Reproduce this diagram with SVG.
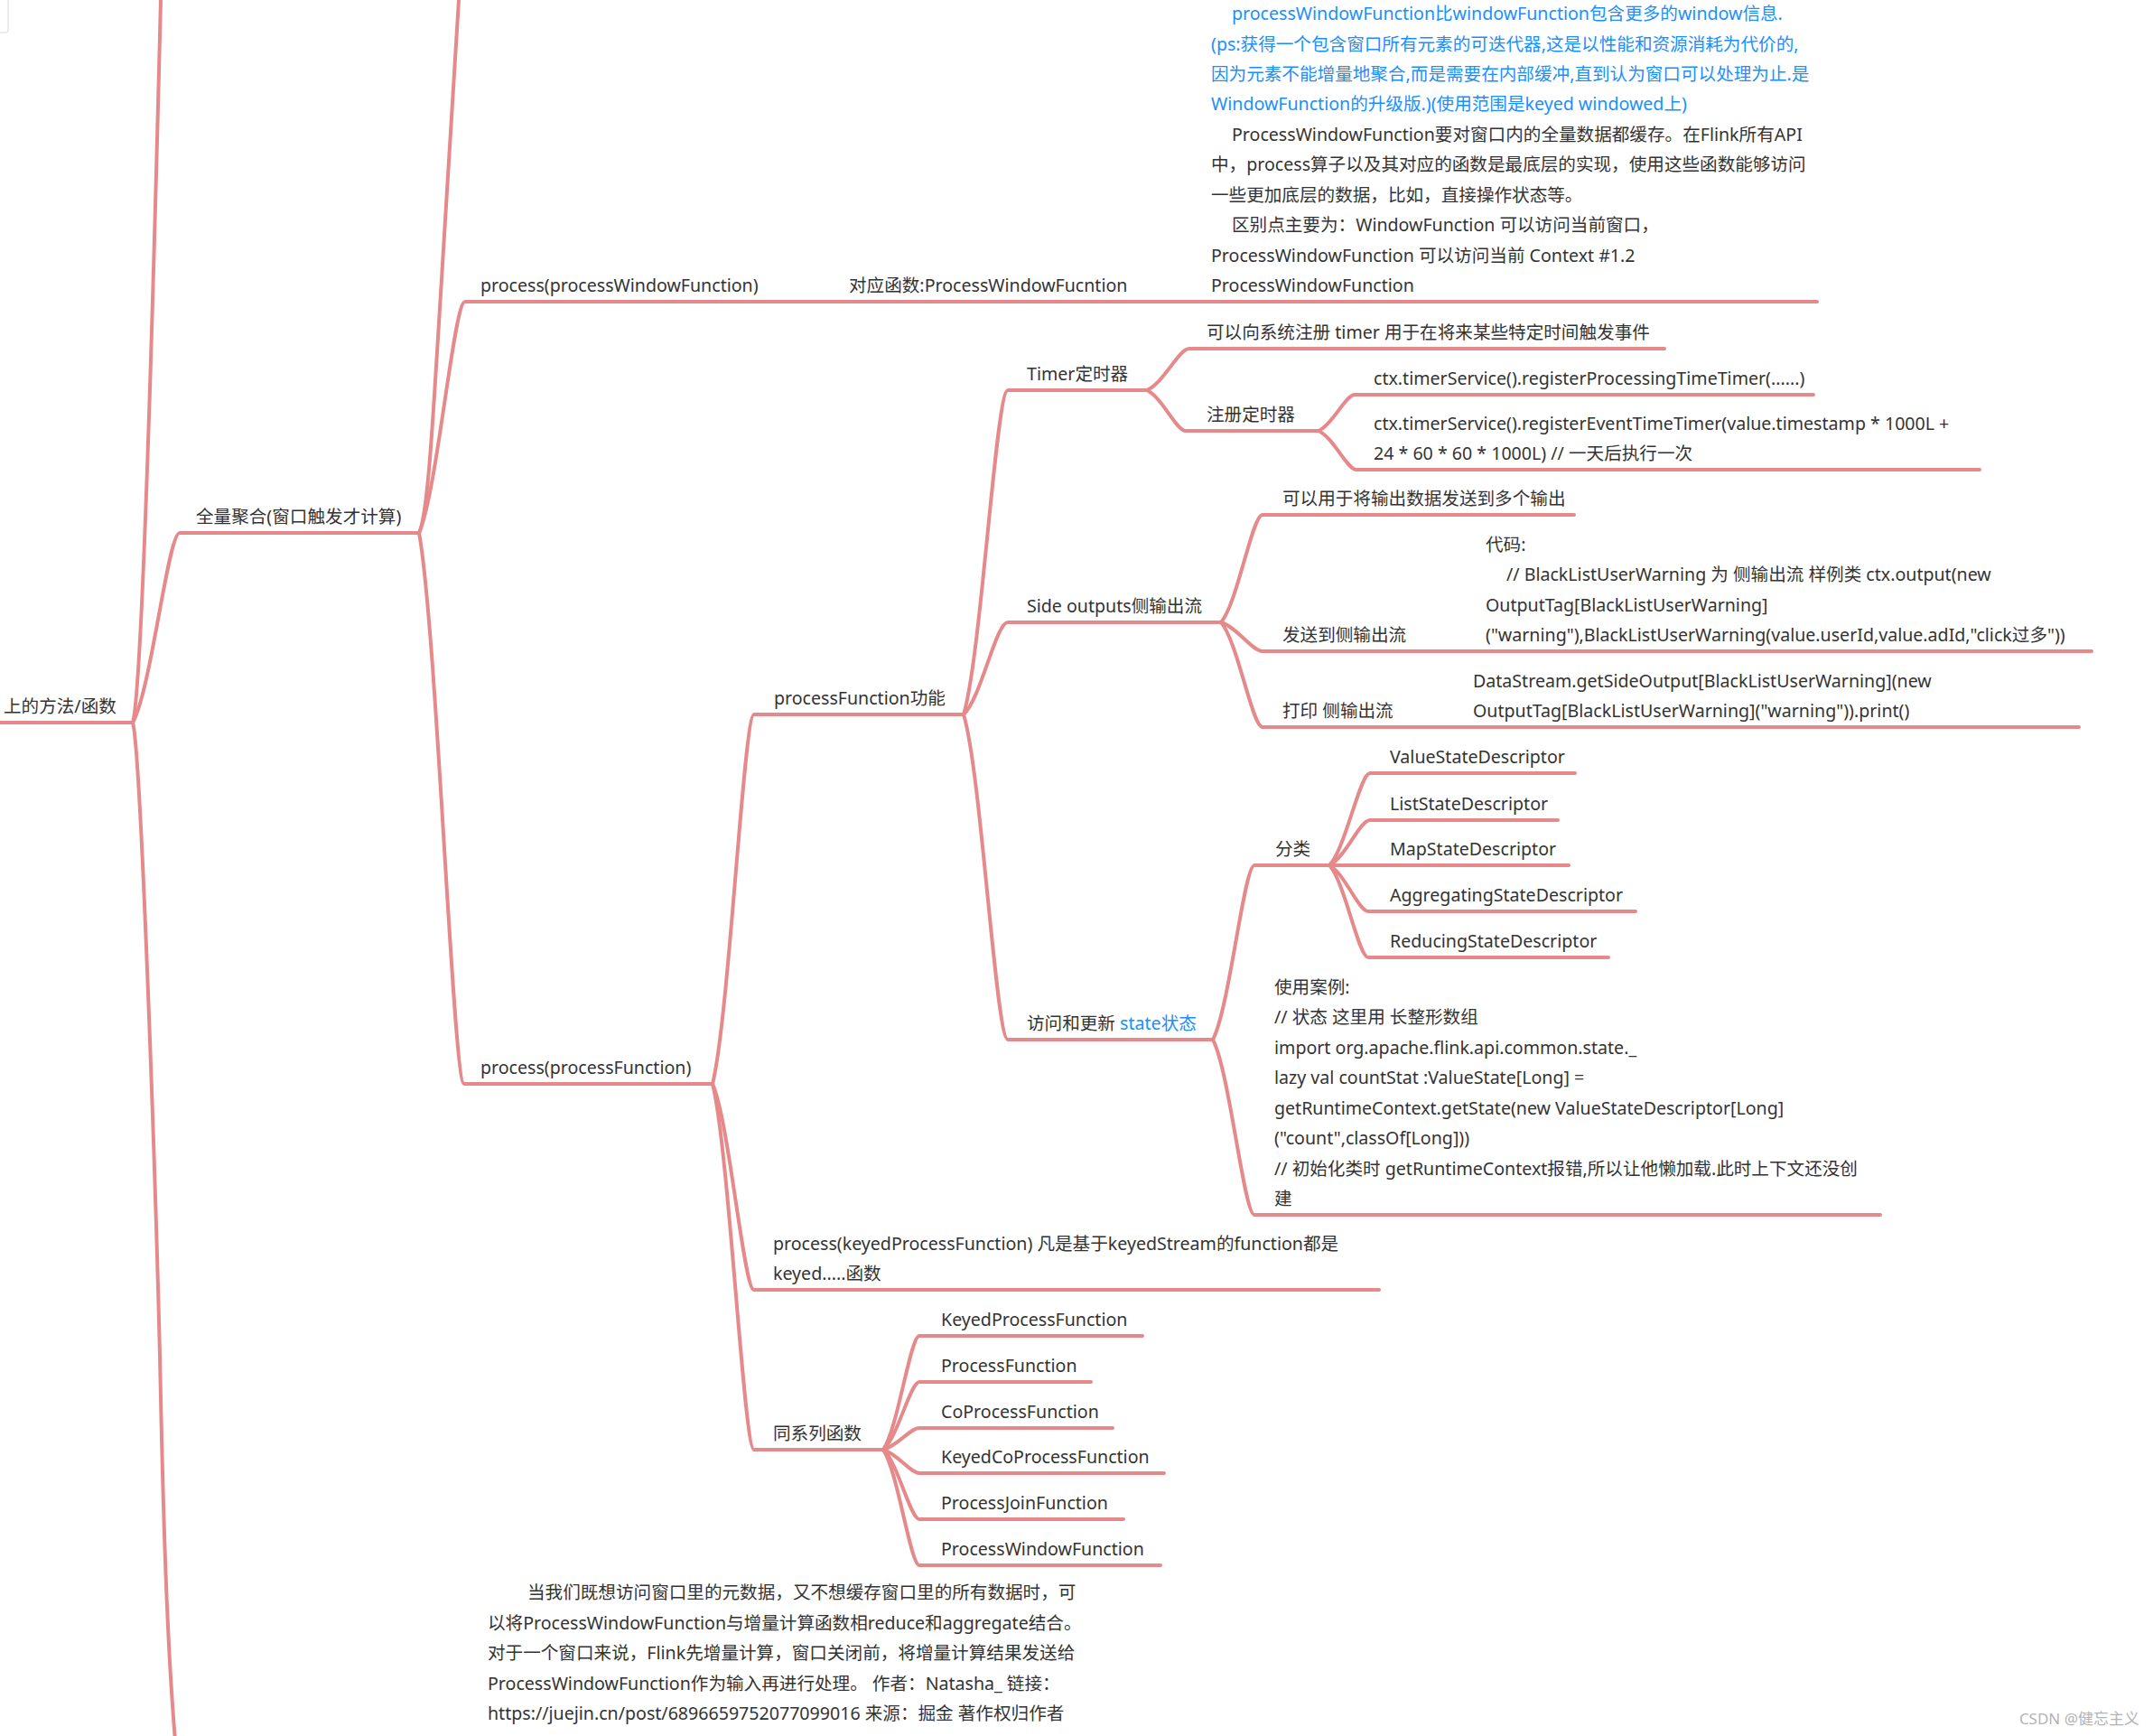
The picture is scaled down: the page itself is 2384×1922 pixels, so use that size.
<svg xmlns="http://www.w3.org/2000/svg" width="2384" height="1922" viewBox="0 0 2384 1922">
<style>
.ln{fill:none;stroke:#e6898a;stroke-width:4;stroke-linecap:round;stroke-linejoin:round}
.t{font-family:"Noto Sans","Noto Sans CJK SC",sans-serif;font-size:19.6px;fill:#333}
.b{fill:#1890ff}
.wm{font-family:"Noto Sans","Noto Sans CJK SC",sans-serif;font-size:17px;fill:#b3b3b3}
</style>
<rect x="0" y="0" width="2384" height="1922" fill="#ffffff"/>
<rect x="-10" y="-10" width="19" height="46" rx="3" fill="#ffffff" stroke="#e6e6e6" stroke-width="1.5"/>
<g id="connectors">
<path class="ln" d="M0,800 H147"/>
<path class="ln" d="M147,800 C156,770 168,400 178,0 L179.5,-40"/>
<path class="ln" d="M147,800 C156,830 172,1300 177,1500 C181,1700 186,1850 197,1960"/>
<path class="ln" d="M147,800 C167.8,762.2 186,590 199,590 H464"/>
<path class="ln" d="M464,590 C474,570 480,450 484,390 L508,0 L510.5,-40"/>
<path class="ln" d="M464,590 C484.4,543.9 502.3,334 515,334 H2012"/>
<path class="ln" d="M464,590 C484,699.8 501.5,1200 514,1200 H789"/>
<path class="ln" d="M789,1200 C807.4,1126.4 823.5,791 835,791 H1067"/>
<path class="ln" d="M789,1200 C807.4,1241 823.5,1428 835,1428 H1527"/>
<path class="ln" d="M789,1200 C807.4,1272.9 823.5,1605 835,1605 H978"/>
<path class="ln" d="M1067,791 C1086.6,726.4 1102.8,432 1116,432 H1270"/>
<path class="ln" d="M1067,791 C1086.6,772.6 1102.8,689 1116,689 H1352"/>
<path class="ln" d="M1067,791 C1086.6,855.8 1102.8,1151 1116,1151 H1343"/>
<path class="ln" d="M1270,432 C1288.8,423.7 1305.3,386 1317,386 H1843"/>
<path class="ln" d="M1270,432 C1287.2,440.1 1302.3,477 1313,477 H1460"/>
<path class="ln" d="M1460,477 C1476,469.8 1490,437 1500,437 H2008"/>
<path class="ln" d="M1460,477 C1476.8,484.7 1491.5,520 1502,520 H2192"/>
<path class="ln" d="M1352,689 C1370.4,667.6 1386.5,570 1398,570 H1743"/>
<path class="ln" d="M1352,689 C1370.4,694.8 1386.5,721 1398,721 H2316"/>
<path class="ln" d="M1352,689 C1370.4,709.9 1386.5,805 1398,805 H2302"/>
<path class="ln" d="M1343,1151 C1361.4,1116.3 1377.5,958 1389,958 H1472"/>
<path class="ln" d="M1343,1151 C1361.4,1185.9 1377.5,1345 1389,1345 H2082"/>
<path class="ln" d="M1472,958 C1490,939.6 1505.8,856 1517,856 H1744"/>
<path class="ln" d="M1472,958 C1490,949 1505.8,908 1517,908 H1725"/>
<path class="ln" d="M1472,958 H1737"/>
<path class="ln" d="M1472,958 C1489.2,967.2 1504.3,1009 1515,1009 H1811"/>
<path class="ln" d="M1472,958 C1489.2,976.4 1504.3,1060 1515,1060 H1781"/>
<path class="ln" d="M978,1605 C994,1582.3 1008,1479 1018,1479 H1265"/>
<path class="ln" d="M978,1605 C994,1591.5 1008,1530 1018,1530 H1208"/>
<path class="ln" d="M978,1605 C994,1600.7 1008,1581 1018,1581 H1232"/>
<path class="ln" d="M978,1605 C994,1609.7 1008,1631 1018,1631 H1289"/>
<path class="ln" d="M978,1605 C994,1618.9 1008,1682 1018,1682 H1244"/>
<path class="ln" d="M978,1605 C994,1628 1008,1733 1018,1733 H1285"/>
</g>
<g id="n-root"><text class="t" x="4" y="789">上的方法/函数</text></g>
<g id="n-quanliang"><text class="t" x="217" y="579">全量聚合(窗口触发才计算)</text></g>
<g id="n-pwf"><text class="t" x="532" y="323">process(processWindowFunction)</text></g>
<g id="n-duiying"><text class="t" x="940" y="323">对应函数:ProcessWindowFucntion</text></g>
<g id="n-pwf-note">
<text class="t b" x="1364" y="22">processWindowFunction比windowFunction包含更多的window信息.</text>
<text class="t b" x="1341" y="55.5">(ps:获得一个包含窗口所有元素的可迭代器,这是以性能和资源消耗为代价的,</text>
<text class="t b" x="1341" y="88.9">因为元素不能增量地聚合,而是需要在内部缓冲,直到认为窗口可以处理为止.是</text>
<text class="t b" x="1341" y="122.3">WindowFunction的升级版.)(使用范围是keyed windowed上)</text>
<text class="t" x="1364" y="155.8">ProcessWindowFunction要对窗口内的全量数据都缓存。在Flink所有API</text>
<text class="t" x="1341" y="189.2">中，process算子以及其对应的函数是最底层的实现，使用这些函数能够访问</text>
<text class="t" x="1341" y="222.6">一些更加底层的数据，比如，直接操作状态等。</text>
<text class="t" x="1364" y="256.1">区别点主要为：WindowFunction 可以访问当前窗口，</text>
<text class="t" x="1341" y="289.5">ProcessWindowFunction 可以访问当前 Context #1.2</text>
<text class="t" x="1341" y="323">ProcessWindowFunction</text>
</g>
<g id="n-pf"><text class="t" x="532" y="1189">process(processFunction)</text></g>
<g id="n-pfgn"><text class="t" x="857" y="780">processFunction功能</text></g>
<g id="n-timer"><text class="t" x="1137" y="421">Timer定时器</text></g>
<g id="n-timer-desc"><text class="t" x="1336" y="375">可以向系统注册 timer 用于在将来某些特定时间触发事件</text></g>
<g id="n-reg"><text class="t" x="1336" y="466">注册定时器</text></g>
<g id="n-ctx1"><text class="t" x="1521" y="426">ctx.timerService().registerProcessingTimeTimer(......)</text></g>
<g id="n-ctx2">
<text class="t" x="1521" y="475.6">ctx.timerService().registerEventTimeTimer(value.timestamp * 1000L +</text>
<text class="t" x="1521" y="509">24 * 60 * 60 * 1000L) // 一天后执行一次</text>
</g>
<g id="n-side"><text class="t" x="1137" y="678">Side outputs侧输出流</text></g>
<g id="n-side-desc"><text class="t" x="1420" y="559">可以用于将输出数据发送到多个输出</text></g>
<g id="n-send"><text class="t" x="1420" y="710">发送到侧输出流</text></g>
<g id="n-send-code">
<text class="t" x="1645" y="609.8">代码:</text>
<text class="t" x="1668" y="643.2">// BlackListUserWarning 为 侧输出流 样例类 ctx.output(new</text>
<text class="t" x="1645" y="676.6">OutputTag[BlackListUserWarning]</text>
<text class="t" x="1645" y="710">("warning"),BlackListUserWarning(value.userId,value.adId,"click过多"))</text>
</g>
<g id="n-print"><text class="t" x="1420" y="794">打印 侧输出流</text></g>
<g id="n-print-code">
<text class="t" x="1631" y="760.6">DataStream.getSideOutput[BlackListUserWarning](new</text>
<text class="t" x="1631" y="794">OutputTag[BlackListUserWarning]("warning")).print()</text>
</g>
<g id="n-state"><text class="t" x="1137" y="1140">访问和更新 <tspan class="b">state状态</tspan></text></g>
<g id="n-fenlei"><text class="t" x="1412" y="947">分类</text></g>
<g id="n-value"><text class="t" x="1539" y="845">ValueStateDescriptor</text></g>
<g id="n-list"><text class="t" x="1539" y="897">ListStateDescriptor</text></g>
<g id="n-map"><text class="t" x="1539" y="947">MapStateDescriptor</text></g>
<g id="n-agg"><text class="t" x="1539" y="998">AggregatingStateDescriptor</text></g>
<g id="n-red"><text class="t" x="1539" y="1049">ReducingStateDescriptor</text></g>
<g id="n-case">
<text class="t" x="1411" y="1099.9">使用案例:</text>
<text class="t" x="1411" y="1133.4">// 状态 这里用 长整形数组</text>
<text class="t" x="1411" y="1166.8">import org.apache.flink.api.common.state._</text>
<text class="t" x="1411" y="1200.2">lazy val countStat :ValueState[Long] =</text>
<text class="t" x="1411" y="1233.7">getRuntimeContext.getState(new ValueStateDescriptor[Long]</text>
<text class="t" x="1411" y="1267.1">("count",classOf[Long]))</text>
<text class="t" x="1411" y="1300.6">// 初始化类时 getRuntimeContext报错,所以让他懒加载.此时上下文还没创</text>
<text class="t" x="1411" y="1334">建</text>
</g>
<g id="n-keyed">
<text class="t" x="856" y="1384">process(keyedProcessFunction) 凡是基于keyedStream的function都是</text>
<text class="t" x="856" y="1417.4">keyed.....函数</text>
</g>
<g id="n-tongxilie"><text class="t" x="856" y="1594">同系列函数</text></g>
<g id="n-kpf"><text class="t" x="1042" y="1468">KeyedProcessFunction</text></g>
<g id="n-procf"><text class="t" x="1042" y="1519">ProcessFunction</text></g>
<g id="n-copf"><text class="t" x="1042" y="1570">CoProcessFunction</text></g>
<g id="n-kcopf"><text class="t" x="1042" y="1620">KeyedCoProcessFunction</text></g>
<g id="n-pjf"><text class="t" x="1042" y="1671">ProcessJoinFunction</text></g>
<g id="n-pwf2"><text class="t" x="1042" y="1722">ProcessWindowFunction</text></g>
<g id="n-para">
<text class="t" x="584" y="1770.2">当我们既想访问窗口里的元数据，又不想缓存窗口里的所有数据时，可</text>
<text class="t" x="540" y="1803.7">以将ProcessWindowFunction与增量计算函数相reduce和aggregate结合。</text>
<text class="t" x="540" y="1837.1">对于一个窗口来说，Flink先增量计算，窗口关闭前，将增量计算结果发送给</text>
<text class="t" x="540" y="1870.6">ProcessWindowFunction作为输入再进行处理。 作者：Natasha_ 链接：</text>
<text class="t" x="540" y="1904">https://juejin.cn/post/6896659752077099016 来源：掘金 著作权归作者</text>
</g>
<g id="watermark"><text class="wm" x="2369" y="1909" text-anchor="end">CSDN @健忘主义</text></g>
</svg>
